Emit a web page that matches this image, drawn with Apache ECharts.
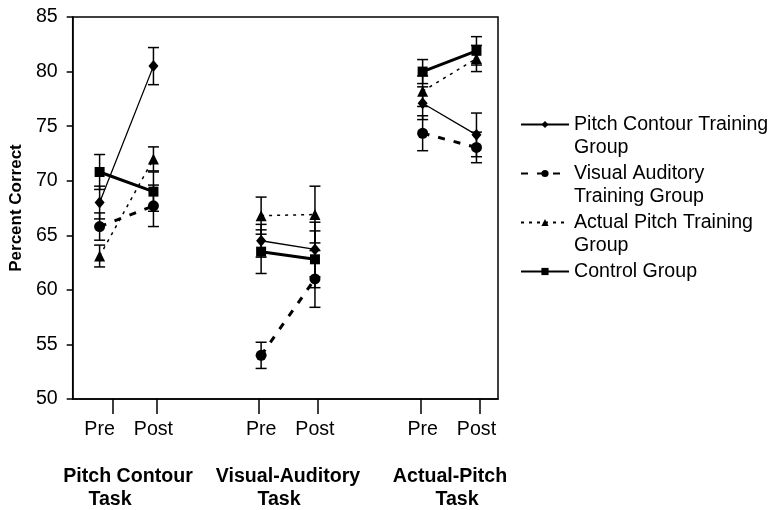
<!DOCTYPE html>
<html><head><meta charset="utf-8">
<script src="https://cdn.jsdelivr.net/npm/echarts@6/dist/echarts.min.js"></script>
<style>html,body{margin:0;padding:0;background:#fff}#c{width:772px;height:510px}</style>
</head><body><div id="c"></div>
<script>
// ---- data ----
const xPositions = [0, 1, 3, 4, 6, 7];
const tickPositions = [0.24, 1.06, 2.96, 4.06, 5.96, 7.06];
const phaseLabels = ['Pre', 'Post', 'Pre', 'Post', 'Pre', 'Post'];
const taskLine1 = ['Pitch Contour', 'Visual-Auditory', 'Actual-Pitch'];
const taskLine2 = ['Task', 'Task', 'Task'];
const seriesNames = ['Pitch Contour Training\nGroup', 'Visual Auditory\nTraining Group', 'Actual Pitch Training\nGroup', 'Control Group'];
const pitchContour = [68.0, 80.5, 64.5, 63.7, 77.1, 74.2];
const pitchContourErr = [1.5, 1.7, 1.5, 2.5, 1.5, 2.0];
const visualAuditory = [65.8, 67.7, 54.0, 61.0, 74.35, 73.05];
const visualAuditoryErr = [1.25, 1.9, 1.2, 2.6, 1.6, 1.4];
const actualPitch = [63.1, 72.0, 66.8, 66.9, 78.2, 81.2];
const actualPitchErr = [1.0, 1.1, 1.7, 2.6, 1.4, 1.2];
const control = [70.8, 69.0, 63.5, 62.8, 80.0, 81.9];
const controlErr = [1.6, 1.8, 2.0, 2.6, 1.1, 1.3];

// ---- build ----
const FONT = 'Liberation Sans, Arial, sans-serif';
const FS = 19.6;
function lineData(vals) {
  const out = [];
  vals.forEach((v, i) => {
    out.push([xPositions[i], v]);
    if (i === 1 || i === 3) out.push([xPositions[i] + 1, '-']);
  });
  return out;
}
function errData(vals, errs) {
  return vals.map((v, i) => [xPositions[i], v - errs[i], v + errs[i]]);
}
const valueSets = [pitchContour, visualAuditory, actualPitch, control];
const errSets = [pitchContourErr, visualAuditoryErr, actualPitchErr, controlErr];
const styles = [
  {symbol: 'diamond', symbolSize: [10, 12], lineStyle: {width: 1.3, type: 'solid'}},
  {symbol: 'circle', symbolSize: 11, lineStyle: {width: 3, type: [7, 9]}},
  {symbol: 'triangle', symbolSize: 11, lineStyle: {width: 1.5, type: [3, 5]}},
  {symbol: 'rect', symbolSize: 10, lineStyle: {width: 3, type: 'solid'}}
];

const series = [];
valueSets.forEach((vals, k) => {
  series.push({
    type: 'custom',
    name: 'err' + k,
    data: errData(vals, errSets[k]),
    encode: {x: 0, y: [1, 2]},
    z: 1,
    silent: true,
    renderItem: function (params, api) {
      const x = api.value(0);
      const lo = api.coord([x, api.value(1)]);
      const hi = api.coord([x, api.value(2)]);
      const w = 5.5;
      const st = {stroke: '#000', lineWidth: 1.5};
      return {type: 'group', children: [
        {type: 'line', shape: {x1: lo[0], y1: lo[1], x2: hi[0], y2: hi[1]}, style: st},
        {type: 'line', shape: {x1: lo[0] - w, y1: lo[1], x2: lo[0] + w, y2: lo[1]}, style: st},
        {type: 'line', shape: {x1: hi[0] - w, y1: hi[1], x2: hi[0] + w, y2: hi[1]}, style: st}
      ]};
    }
  });
});
valueSets.forEach((vals, k) => {
  series.push({
    type: 'line',
    name: seriesNames[k],
    data: lineData(vals),
    connectNulls: false,
    symbol: styles[k].symbol,
    symbolSize: styles[k].symbolSize,
    showAllSymbol: true,
    itemStyle: {color: '#000', borderWidth: 0},
    lineStyle: Object.assign({color: '#000'}, styles[k].lineStyle),
    z: 3
  });
});

const graphics = [];
const taskCenters1 = [128, 288, 450];
const taskCenters2 = [110, 279, 457];
taskLine1.forEach((t, i) => {
  graphics.push({type: 'text', x: taskCenters1[i], y: 477, style: {text: t, font: 'bold ' + FS + 'px ' + FONT, fill: '#000', align: 'center', verticalAlign: 'middle'}});
  graphics.push({type: 'text', x: taskCenters2[i], y: 500, style: {text: taskLine2[i], font: 'bold ' + FS + 'px ' + FONT, fill: '#000', align: 'center', verticalAlign: 'middle'}});
});

const chart = echarts.init(document.getElementById('c'), null, {renderer: 'canvas'});
chart.setOption({
  animation: false,
  backgroundColor: '#fff',
  textStyle: {fontFamily: FONT},
  grid: {left: 71, top: 17, width: 427, height: 382, show: true, borderColor: '#000', borderWidth: 1.5, backgroundColor: 'transparent'},
  xAxis: {
    type: 'value', min: -0.5, max: 7.4,
    splitLine: {show: false},
    axisLine: {show: true, onZero: false, lineStyle: {color: '#000', width: 1.5}},
    axisTick: {show: true, customValues: tickPositions, length: 15, lineStyle: {color: '#000', width: 1.5}},
    axisLabel: {customValues: xPositions, color: '#000', fontSize: FS, fontFamily: FONT, margin: 21,
      formatter: v => phaseLabels[xPositions.indexOf(v)] || ''}
  },
  yAxis: {
    type: 'value', min: 50, max: 85, interval: 5,
    name: 'Percent Correct', nameLocation: 'middle', nameGap: 46,
    nameTextStyle: {fontSize: 17, fontWeight: 'bold', color: '#000', fontFamily: FONT},
    splitLine: {show: false},
    axisLine: {show: true, onZero: false, lineStyle: {color: '#000', width: 1.5}},
    axisTick: {show: true, length: 6, lineStyle: {color: '#000', width: 1.5}},
    axisLabel: {color: '#000', fontSize: FS, fontFamily: FONT, margin: 15}
  },
  legend: {
    orient: 'vertical', left: 520, top: 90, padding: 0, itemGap: -20,
    itemWidth: 48, itemHeight: 9, selectedMode: false,
    data: seriesNames,
    formatter: name => name.indexOf('\n') >= 0 ? '\n' + name : '\n' + name + '\n',
    textStyle: {fontSize: FS, lineHeight: 23, color: '#000', fontFamily: FONT}
  },
  graphic: graphics,
  series: series
});
</script></body></html>
